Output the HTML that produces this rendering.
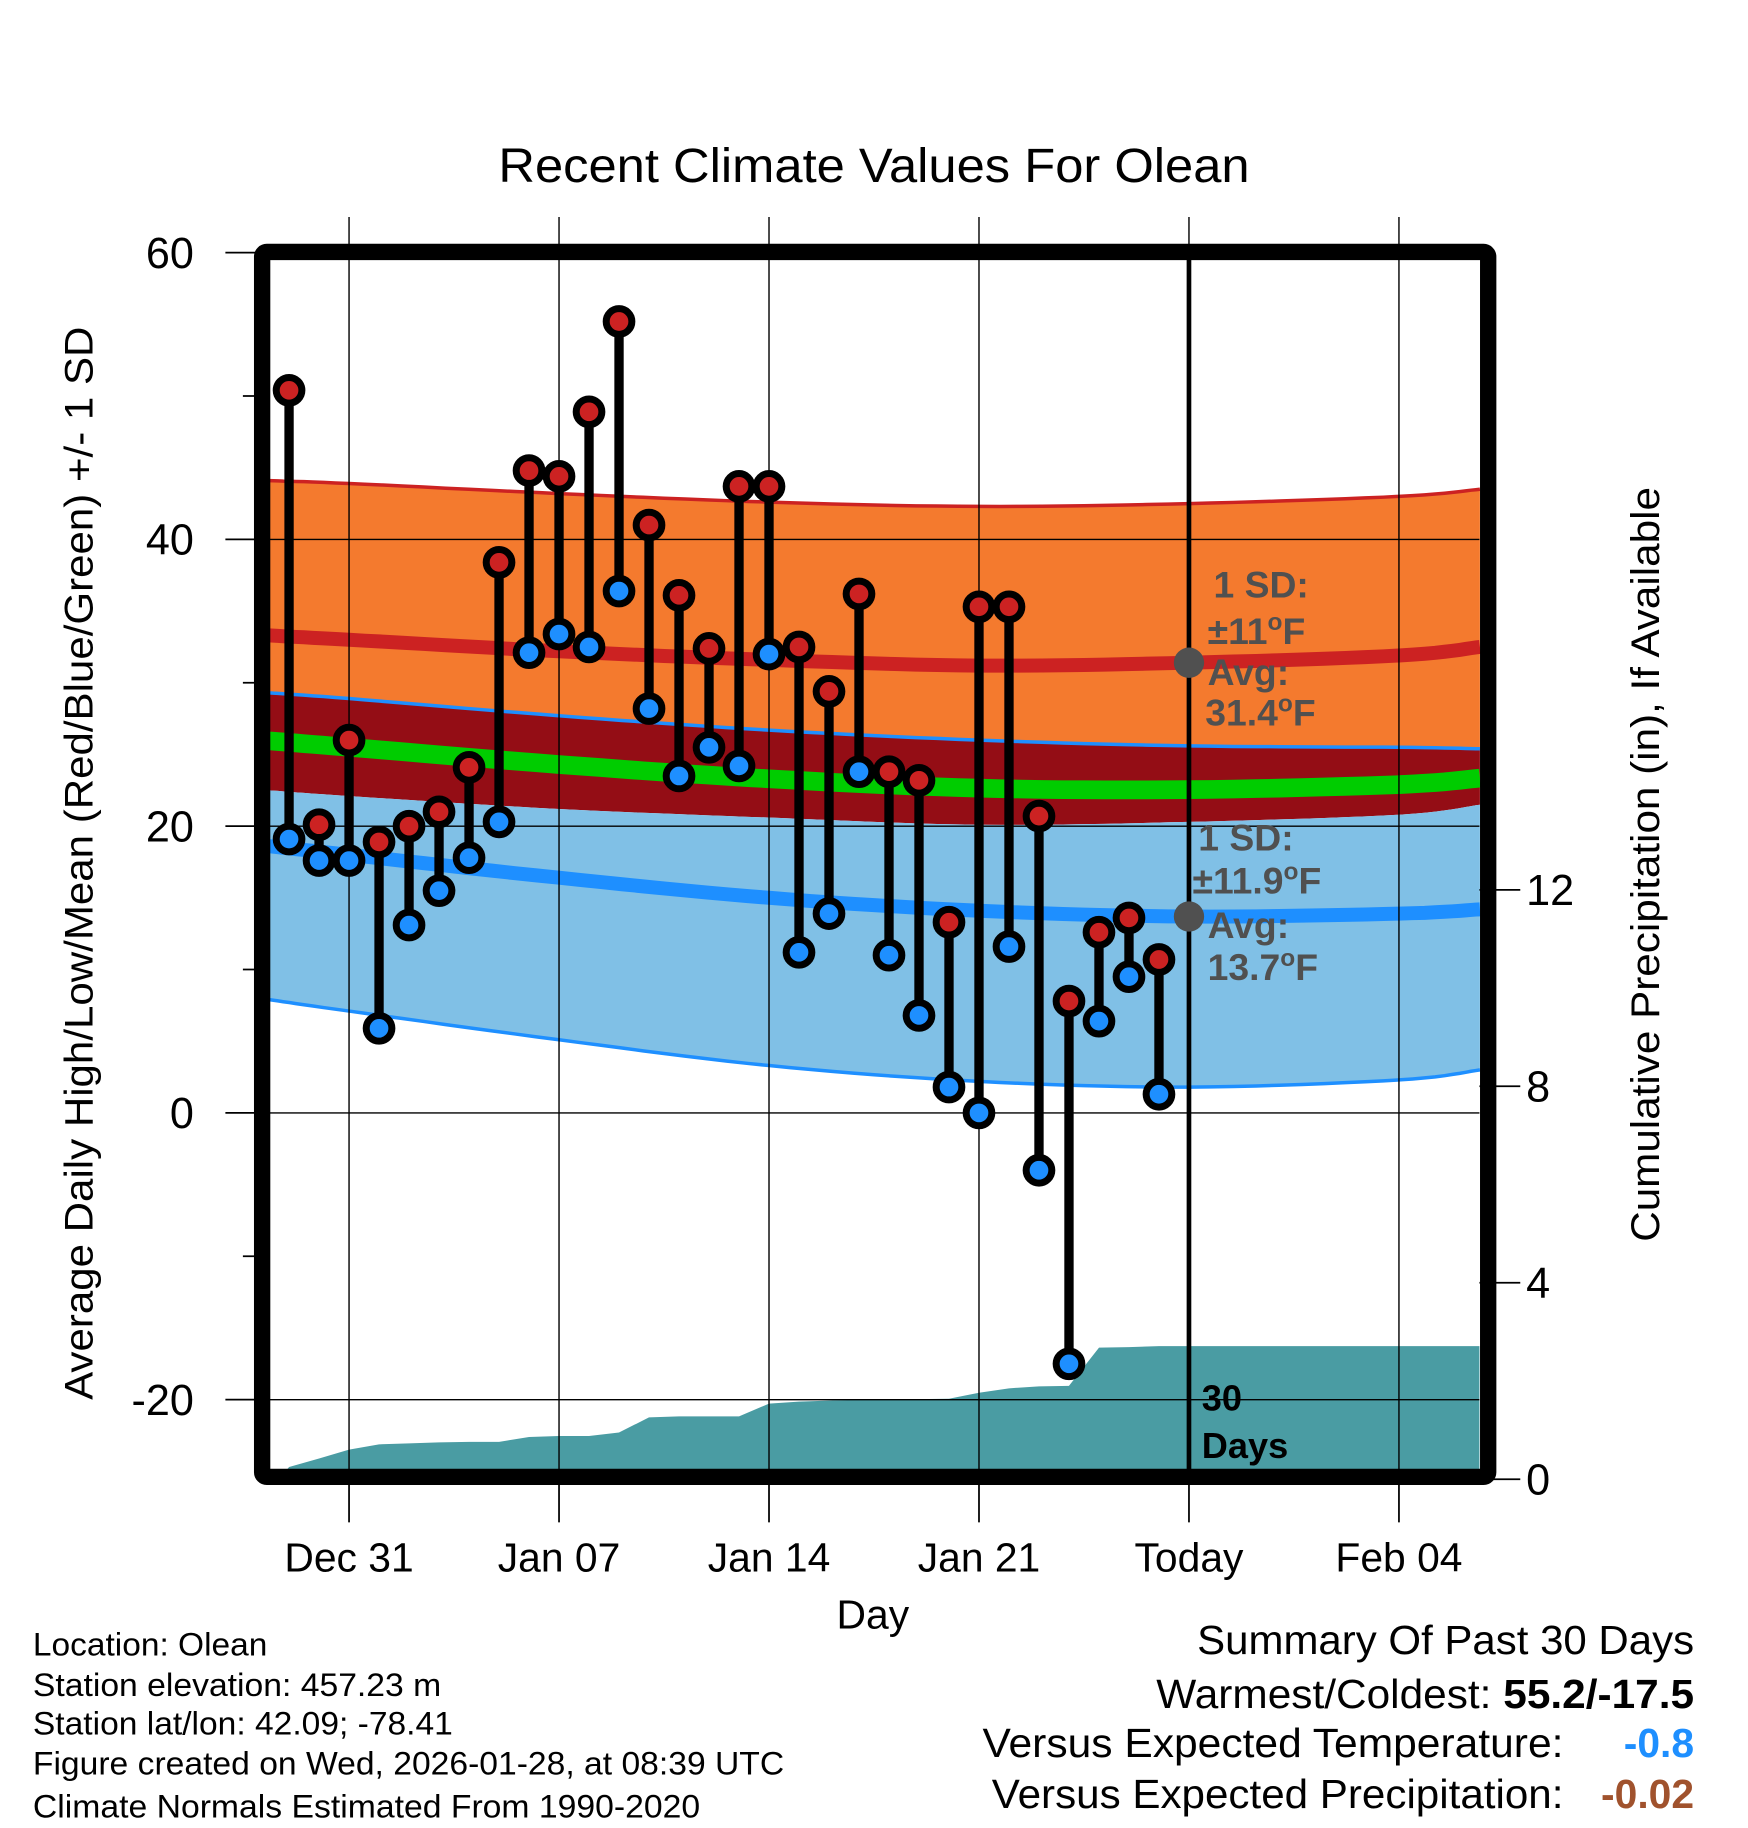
<!DOCTYPE html>
<html><head><meta charset="utf-8"><style>
html,body{margin:0;padding:0;background:#fff}
svg{display:block}
text{font-family:"Liberation Sans",Arial,sans-serif}
</style></head><body>
<svg id="chart" xmlns="http://www.w3.org/2000/svg" width="1748" height="1828" viewBox="0 0 1498 1567">
<g id="bands"></g>
<g id="precip"></g>
<g id="grid"></g>
<g id="obs"></g>
<g id="annot"></g>
<g id="axes"></g>
<text x="749" y="156" font-size="41" text-anchor="middle" textLength="644" lengthAdjust="spacingAndGlyphs">Recent Climate Values For Olean</text>
<text x="748" y="1396" font-size="35" text-anchor="middle">Day</text>
<text transform="translate(79,740) rotate(-90)" font-size="34" text-anchor="middle" textLength="920" lengthAdjust="spacingAndGlyphs">Average Daily High/Low/Mean (Red/Blue/Green) +/- 1 SD</text>
<text transform="translate(1422,741) rotate(-90)" font-size="34" text-anchor="middle" textLength="647" lengthAdjust="spacingAndGlyphs">Cumulative Precipitation (in), If Available</text>
<g font-size="28">
<text x="28" y="1419" textLength="201" lengthAdjust="spacingAndGlyphs">Location: Olean</text>
<text x="28" y="1454" textLength="350" lengthAdjust="spacingAndGlyphs">Station elevation: 457.23 m</text>
<text x="28" y="1487" textLength="360" lengthAdjust="spacingAndGlyphs">Station lat/lon: 42.09; -78.41</text>
<text x="28" y="1521" textLength="644" lengthAdjust="spacingAndGlyphs">Figure created on Wed, 2026-01-28, at 08:39 UTC</text>
<text x="28" y="1558" textLength="572" lengthAdjust="spacingAndGlyphs">Climate Normals Estimated From 1990-2020</text>
</g>
<g font-size="35" text-anchor="end">
<text x="1452" y="1418" textLength="426" lengthAdjust="spacingAndGlyphs">Summary Of Past 30 Days</text>
<text x="1452" y="1464" textLength="461" lengthAdjust="spacingAndGlyphs">Warmest/Coldest: <tspan font-weight="bold">55.2/-17.5</tspan></text>
<text x="1340" y="1506" textLength="498" lengthAdjust="spacingAndGlyphs">Versus Expected Temperature:</text>
<text x="1452" y="1506" font-weight="bold" fill="#1e8fff">-0.8</text>
<text x="1340" y="1550" textLength="490" lengthAdjust="spacingAndGlyphs">Versus Expected Precipitation:</text>
<text x="1452" y="1550" font-weight="bold" fill="#a0522d">-0.02</text>
</g>
</svg>
<script>
// ---- data ----
const obsDays = [-2,-1,0,1,2,3,4,5,6,7,8,9,10,11,12,13,14,15,16,17,18,19,20,21,22,23,24,25,26,27];
const highs = [50.4,20.1,26.0,18.9,20.0,21.0,24.1,38.4,44.8,44.4,48.9,55.2,41.0,36.1,32.4,43.7,43.7,32.5,29.4,36.2,23.8,23.2,13.3,35.3,35.3,20.7,7.8,12.6,13.6,10.7];
const lows = [19.1,17.6,17.6,5.9,13.1,15.5,17.8,20.3,32.1,33.4,32.5,36.4,28.2,23.5,25.5,24.2,32.0,11.2,13.9,23.8,11.0,6.8,1.8,0.0,11.6,-4.0,-17.5,6.4,9.5,1.3];
const precip = [0.25,0.42,0.6,0.71,0.73,0.75,0.76,0.76,0.86,0.88,0.88,0.95,1.26,1.28,1.28,1.28,1.54,1.58,1.6,1.62,1.62,1.63,1.64,1.76,1.85,1.89,1.9,2.68,2.69,2.71];
const normDays = [-2.66,0,7,14,21,28,35,37.7];
const highMean = [33.3,33.0,32.2,31.6,31.2,31.4,31.9,32.5];
const highSD = [10.8,10.9,11.0,11.0,11.1,11.1,11.1,11.0];
const lowMean = [18.6,18.0,16.4,15.0,14.1,13.7,13.9,14.2];
const lowSD = [10.7,10.9,11.3,11.7,11.9,11.9,11.6,11.2];
const xTickDays = [0,7,14,21,28,35];
const xTickLabels = ["Dec 31","Jan 07","Jan 14","Jan 21","Today","Feb 04"];
const yTicks = [60,40,20,0,-20];
const yMinor = [50,30,10,-10];
const y2Ticks = [0,4,8,12];

// ---- scales ----
const X0=231,X1=1268,Y0=222,Y1=1260;
const x = d => 299 + d*180/7;
const y = v => 954 - v*12.29;
const y2 = p => 1268 - p*42.1;
const NS="http://www.w3.org/2000/svg";
function mk(tag, parent, attrs){const e=document.createElementNS(NS,tag);for(const k in attrs)e.setAttribute(k,attrs[k]);parent.appendChild(e);return e;}
function line(arr){return arr.map(p=>p[0].toFixed(1)+","+p[1].toFixed(1)).join(" ");}
// smooth sampling via Catmull-Rom-like interpolation of normal arrays
function sample(f){const out=[];for(let k=0;k<normDays.length-1;k++){for(let s=0;s<10;s++){const t=s/10;const i0=Math.max(k-1,0),i1=k,i2=k+1,i3=Math.min(k+2,normDays.length-1);
 const cr=(a,b,c,d)=>0.5*((2*b)+(-a+c)*t+(2*a-5*b+4*c-d)*t*t+(-a+3*b-3*c+d)*t*t*t);
 out.push([cr(x(normDays[i0]),x(normDays[i1]),x(normDays[i2]),x(normDays[i3])),cr(y(f(i0)),y(f(i1)),y(f(i2)),y(f(i3)))]);}}
 const n=normDays.length-1;out.push([x(normDays[n]),y(f(n))]);return out;}
function band(f1,f2){return line(sample(f1).concat(sample(f2).reverse()));}

const B=document.getElementById('bands');
const hT=i=>highMean[i]+highSD[i], hB=i=>highMean[i]-highSD[i];
const lT=i=>lowMean[i]+lowSD[i], lB=i=>lowMean[i]-lowSD[i];
let e;
e=mk('polygon',B,{points:band(hT,lT),fill:'#f47a2e'});


e=mk('polygon',B,{points:band(lT,hB),fill:'#940d15'});


e=mk('polygon',B,{points:band(hB,lB),fill:'#80c0e6'});


function curve(f,color,w,name){const el=mk('polyline',B,{points:line(sample(f)),fill:'none',stroke:color,'stroke-width':w});}
curve(hT,'#cc2222',3,'high-sd-upper-line');
curve(i=>highMean[i],'#cc2222',12,'high-mean-line');
curve(lT,'#1e8fff',3,'low-sd-upper-line');
curve(lB,'#1e8fff',3,'low-sd-lower-line');
curve(i=>lowMean[i],'#1e8fff',12,'low-mean-line');
curve(i=>(highMean[i]+lowMean[i])/2,'#00cc00',16,'mean-line');

// precipitation
const P=document.getElementById('precip');
let pts=[[x(-2.35),y2(0)]];
obsDays.forEach((d,i)=>pts.push([x(d),y2(precip[i])]));
pts.push([X1,y2(precip[precip.length-1])]);
pts.push([X1,Y1]);pts.push([x(-2.35),Y1]);
e=mk('polygon',P,{points:line(pts),fill:'#4a9ca3'});


mk('rect',P,{x:X0,y:Y1,width:X1-X0,height:10,fill:'#fff'});

// grid
const G=document.getElementById('grid');
xTickDays.forEach(d=>{const l=mk('line',G,{x1:x(d),x2:x(d),y1:186,y2:Y1,stroke:'#000','stroke-width':1.2});});
yTicks.forEach(v=>{if(v===60)return;const l=mk('line',G,{x1:X0,x2:X1,y1:y(v),y2:y(v),stroke:'#000','stroke-width':1.2});});

// observations
const O=document.getElementById('obs');
obsDays.forEach((d,i)=>{
  const s=mk('line',O,{x1:x(d),x2:x(d),y1:y(highs[i]),y2:y(lows[i]),stroke:'#000','stroke-width':8});
  
  
});
obsDays.forEach((d,i)=>{
  const h=mk('circle',O,{cx:x(d),cy:y(highs[i]),r:11,fill:'#cc2222',stroke:'#000','stroke-width':6});
  
  
  const l=mk('circle',O,{cx:x(d),cy:y(lows[i]),r:11,fill:'#1e8fff',stroke:'#000','stroke-width':6});
  
  
});

// today line + annotations
const A=document.getElementById('annot');
e=mk('line',A,{x1:x(28),x2:x(28),y1:Y0,y2:Y1,stroke:'#000','stroke-width':4});


e=mk('circle',A,{cx:x(28),cy:y(highMean[5]),r:13,fill:'#505050'});


e=mk('circle',A,{cx:x(28),cy:y(lowMean[5]),r:13,fill:'#505050'});


A.insertAdjacentHTML('beforeend',`
<g font-size="32" font-weight="bold" fill="#505050">
<text x="1040" y="512">1 SD:</text>
<text x="1035" y="552">±11<tspan dy="-12" font-size="21">o</tspan><tspan dy="12">F</tspan></text>
<text x="1035" y="587">Avg:</text>
<text x="1033" y="622">31.4<tspan dy="-12" font-size="21">o</tspan><tspan dy="12">F</tspan></text>
<text x="1027" y="729">1 SD:</text>
<text x="1022" y="766">±11.9<tspan dy="-12" font-size="21">o</tspan><tspan dy="12">F</tspan></text>
<text x="1035" y="804">Avg:</text>
<text x="1035" y="840">13.7<tspan dy="-12" font-size="21">o</tspan><tspan dy="12">F</tspan></text>
</g>
<g font-size="31" font-weight="bold" fill="#000">
<text x="1030" y="1209">30</text><text x="1030" y="1250">Days</text></g>`);

// axes
const X=document.getElementById('axes');
e=mk('rect',X,{x:224.5,y:216,width:1051,height:1050,fill:'none',stroke:'#000','stroke-width':14,rx:4});


yTicks.forEach(v=>{mk('line',X,{x1:193,x2:X0,y1:y(v),y2:y(v),stroke:'#000','stroke-width':1.5});
  const t=mk('text',X,{x:166,y:y(v)+13,'font-size':37,'text-anchor':'end'});t.textContent=v;
  });
yMinor.forEach(v=>mk('line',X,{x1:208,x2:X0,y1:y(v),y2:y(v),stroke:'#000','stroke-width':1.5}));
y2Ticks.forEach(p=>{mk('line',X,{x1:X1,x2:1303,y1:y2(p),y2:y2(p),stroke:'#000','stroke-width':1.5});
  const t=mk('text',X,{x:1308,y:y2(p)+13,'font-size':37});t.textContent=p;
  });
xTickDays.forEach((d,i)=>{mk('line',X,{x1:x(d),x2:x(d),y1:1272,y2:1305,stroke:'#000','stroke-width':1.5});
  const t=mk('text',X,{x:x(d),y:1347,'font-size':35,'text-anchor':'middle'});t.textContent=xTickLabels[i];
  });
</script>
</body></html>
